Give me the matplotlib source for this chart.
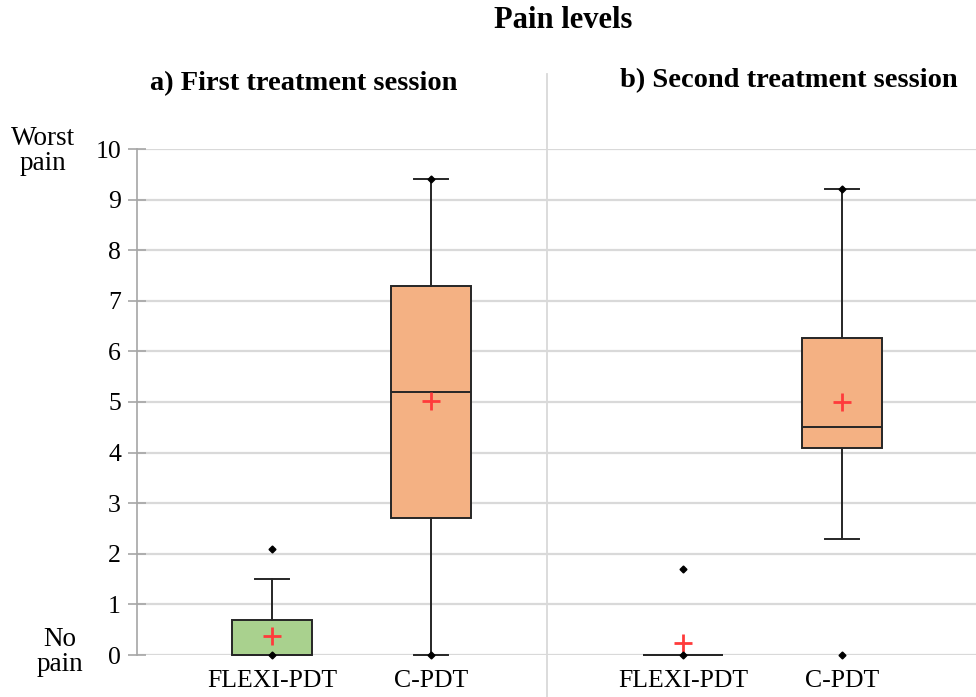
import matplotlib.pyplot as plt
from matplotlib.lines import Line2D

plt.rcParams['font.family'] = ['Liberation Serif', 'DejaVu Serif']

# --- data
groups = ['FLEXI-PDT', 'C-PDT', 'FLEXI-PDT', 'C-PDT']
q1 = [0.0, 2.7, 0.0, 4.1]
medians = [0.0, 5.2, 0.0, 4.5]
q3 = [0.7, 7.3, 0.0, 6.27]
whisk_lo = [0.0, 0.0, 0.0, 2.3]
whisk_hi = [1.5, 9.4, 0.0, 9.2]
means = [0.38, 5.02, 0.24, 5.0]
mins = [0.0, 0.0, 0.0, 0.0]
maxs = [2.1, 9.4, 1.7, 9.2]
fills = ['#a9d18e', '#f4b183', '#a9d18e', '#f4b183']
panel_titles = ['a) First treatment session', 'b) Second treatment session']
yticks = list(range(0, 11))

positions = [1, 2, 3.585, 4.585]

fig = plt.figure(figsize=(9.76, 6.97), dpi=100)
ax = fig.add_axes([137 / 976, 42 / 697, 839 / 976, 506 / 697])

stats = []
for i in range(len(groups)):
    stats.append({
        'med': medians[i], 'q1': q1[i], 'q3': q3[i],
        'whislo': whisk_lo[i], 'whishi': whisk_hi[i],
        'mean': means[i], 'fliers': [mins[i], maxs[i]], 'label': groups[i],
    })

bp = ax.bxp(stats, positions=positions, widths=0.503, showmeans=True,
            patch_artist=True, capwidths=0.21,
            boxprops=dict(edgecolor='#262626', linewidth=1.4),
            medianprops=dict(color='#262626', linewidth=1.4),
            whiskerprops=dict(color='#262626', linewidth=1.4),
            capprops=dict(color='#262626', linewidth=1.4),
            meanprops=dict(marker='+', markeredgecolor='#ff3b3b', markersize=13,
                           markeredgewidth=2),
            flierprops=dict(marker='D', markerfacecolor='black',
                            markeredgecolor='black', markersize=3.5))
for patch, c in zip(bp['boxes'], fills):
    patch.set_facecolor(c)
for key in ['boxes', 'medians', 'whiskers', 'caps', 'fliers', 'means']:
    for art in bp[key]:
        art.set_clip_on(False)
        art.set_zorder(3)

ax.set_xlim(0.151, 5.428)
ax.set_ylim(0, 10)
ax.set_yticks(yticks)
ax.grid(axis='y', color='#d9d9d9', linewidth=1.6, zorder=0)
ax.set_axisbelow(True)
for s in ['top', 'right', 'bottom']:
    ax.spines[s].set_visible(False)
ax.spines['left'].set_color('#a6a6a6')
ax.spines['left'].set_linewidth(1.2)
ax.tick_params(axis='y', direction='inout', length=13, color='#a6a6a6',
               width=1.2, labelsize=18.5, pad=5)
ax.tick_params(axis='x', length=0, labelsize=18.5, pad=11)
ax.set_xticks(positions)
ax.set_xticklabels(groups)

# divider between the two panels
fig.add_artist(Line2D([547 / 976, 547 / 976], [0, 1 - 74 / 697],
                      color='#d9d9d9', linewidth=1.3))

fig.text(563 / 976, 1 - 21 / 697, 'Pain levels', ha='center', va='center',
         fontsize=22, fontweight='bold')
fig.text(304 / 976, 1 - 84 / 697, panel_titles[0], ha='center', va='center',
         fontsize=20.5, fontweight='bold')
fig.text(789 / 976, 1 - 81 / 697, panel_titles[1], ha='center', va='center',
         fontsize=20.5, fontweight='bold')

fig.text(43 / 976, 1 - 151 / 697, 'Worst\npain', ha='center', va='center',
         fontsize=19.5, linespacing=1.05)
fig.text(60 / 976, 1 - 652 / 697, 'No\npain', ha='center', va='center',
         fontsize=19.5, linespacing=1.05)

fig.savefig('out.png', dpi=100)
